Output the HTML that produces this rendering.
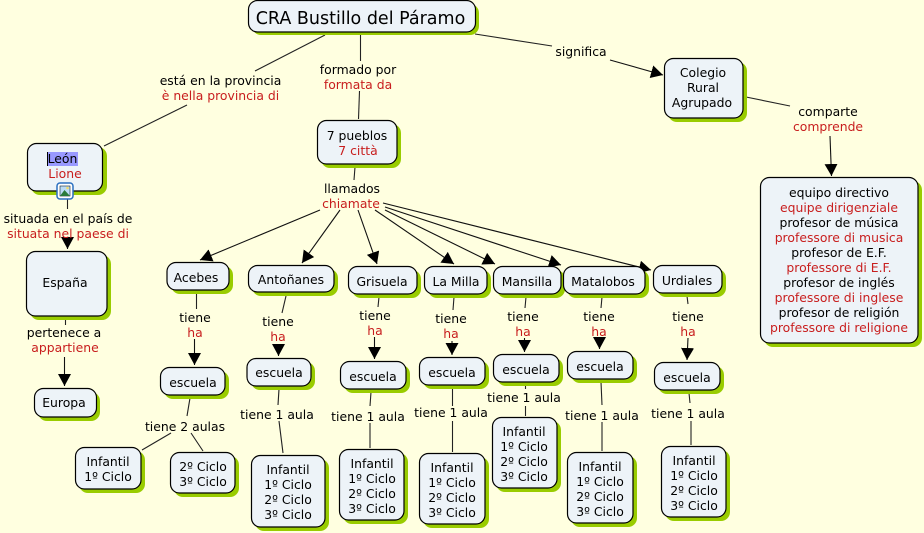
<!DOCTYPE html>
<html><head><meta charset="utf-8"><style>
html,body{margin:0;padding:0;background:#ffffe0;overflow:hidden}
svg{display:block}
text{font-family:"DejaVu Sans",sans-serif;font-size:12.4px;text-anchor:middle;fill:#000}
text.r{fill:#c81e1e}
.l line{stroke:#222;stroke-width:1.1}
.a line{stroke:#111;stroke-width:1.1;marker-end:url(#m)}
.s rect{fill:#99cc00}
.n rect{fill:#edf3f8;stroke:#000;stroke-width:1.2}
</style></head><body>
<svg width="924" height="533" viewBox="0 0 924 533" xmlns="http://www.w3.org/2000/svg">
<defs><marker id="m" markerUnits="userSpaceOnUse" markerWidth="14" markerHeight="14" refX="12" refY="6.5" orient="auto"><path d="M0 0L12 6.5L0 13Z" fill="#000"/></marker></defs>
<rect width="924" height="533" fill="#ffffe0"/>
<g class="l">
<line x1="325" y1="35" x2="255" y2="71"/><line x1="187" y1="105" x2="104" y2="146"/>
<line x1="360.500" y1="35" x2="360.500" y2="61"/><line x1="359.500" y1="91" x2="358.500" y2="119"/>
<line x1="355" y1="167" x2="354" y2="180"/>
<line x1="475" y1="34" x2="552" y2="46"/><line x1="746" y1="97" x2="790" y2="106"/>
<line x1="67.500" y1="198" x2="67.500" y2="209"/><line x1="65.500" y1="319" x2="65.500" y2="325"/>
<line x1="196.500" y1="294" x2="196.500" y2="309"/><line x1="286" y1="296" x2="282" y2="313"/>
<line x1="190" y1="398" x2="187" y2="416"/><line x1="171" y1="433" x2="142" y2="450"/><line x1="191" y1="433" x2="203" y2="451"/>
<line x1="279" y1="389" x2="278" y2="405"/><line x1="279" y1="421" x2="283" y2="453"/>
<line x1="379" y1="297" x2="378" y2="307"/><line x1="371" y1="392" x2="370" y2="406"/><line x1="370" y1="423" x2="370" y2="448"/>
<line x1="454" y1="297" x2="453" y2="310"/><line x1="452.500" y1="388" x2="452.500" y2="406"/><line x1="452.500" y1="421" x2="452.500" y2="452"/>
<line x1="526" y1="297" x2="525" y2="308"/><line x1="525.500" y1="385" x2="525.500" y2="389"/><line x1="525.500" y1="406" x2="525.500" y2="416"/>
<line x1="602" y1="297" x2="601" y2="308"/><line x1="601" y1="382" x2="602" y2="405"/><line x1="602" y1="422" x2="602" y2="451"/>
<line x1="687" y1="296" x2="688" y2="304"/><line x1="689" y1="393" x2="690" y2="403"/><line x1="691" y1="421" x2="691" y2="445"/>
</g>
<g class="a">
<line x1="610" y1="60" x2="663" y2="75"/><line x1="830" y1="136" x2="831.500" y2="176"/>
<line x1="67.500" y1="240" x2="67.500" y2="249"/><line x1="64.500" y1="357" x2="64.500" y2="386"/>
<line x1="320" y1="210" x2="200" y2="260"/><line x1="340" y1="210" x2="302" y2="263"/>
<line x1="358" y1="210" x2="377" y2="264"/><line x1="375" y1="210" x2="454" y2="264"/>
<line x1="385" y1="210" x2="495" y2="264"/><line x1="385" y1="207" x2="561" y2="265"/><line x1="383" y1="203" x2="651" y2="270"/>
<line x1="194.500" y1="339" x2="194.500" y2="365"/><line x1="278.500" y1="344" x2="278.500" y2="356"/>
<line x1="374.500" y1="337" x2="374.500" y2="359"/><line x1="452" y1="341" x2="452" y2="355"/>
<line x1="524.500" y1="338" x2="524.500" y2="352"/><line x1="599.500" y1="338" x2="599.500" y2="349"/><line x1="688" y1="338" x2="687" y2="360"/>
</g>
<g class="s">
<rect x="252" y="4" width="227" height="31" rx="9"/><rect x="31" y="147" width="76" height="48" rx="9"/>
<rect x="321" y="124" width="80" height="44" rx="9"/><rect x="668" y="62" width="79" height="60" rx="9"/>
<rect x="764" y="181" width="158" height="166" rx="9"/><rect x="30" y="255" width="81" height="65" rx="9"/>
<rect x="38" y="392" width="62" height="29" rx="9"/><rect x="171" y="266" width="62" height="28" rx="9"/>
<rect x="252" y="269" width="86" height="27" rx="9"/><rect x="164" y="371" width="65" height="28" rx="9"/>
<rect x="251" y="362" width="64" height="28" rx="9"/><rect x="79" y="451" width="66" height="42" rx="9"/>
<rect x="174" y="456" width="65" height="41" rx="9"/><rect x="255" y="459" width="74" height="72" rx="9"/>
<rect x="352" y="270" width="69" height="28" rx="9"/><rect x="428" y="270" width="63" height="28" rx="9"/>
<rect x="497" y="270" width="68" height="28" rx="9"/><rect x="567" y="270" width="82" height="28" rx="9"/>
<rect x="657" y="269" width="69" height="28" rx="9"/><rect x="344" y="365" width="66" height="28" rx="9"/>
<rect x="423" y="361" width="66" height="28" rx="9"/><rect x="497" y="358" width="66" height="28" rx="9"/>
<rect x="571" y="355" width="66" height="28" rx="9"/><rect x="658" y="366" width="66" height="28" rx="9"/>
<rect x="343" y="453" width="65" height="71" rx="9"/><rect x="423" y="457" width="66" height="71" rx="9"/>
<rect x="496" y="421" width="65" height="71" rx="9"/><rect x="571" y="456" width="66" height="71" rx="9"/>
<rect x="665" y="450" width="65" height="71" rx="9"/>
</g>
<g class="n">
<rect x="248.500" y="0.500" width="227" height="31.500" rx="9"/><rect x="27.500" y="143.500" width="75" height="47.500" rx="9"/>
<rect x="317.500" y="120.500" width="79.500" height="43.500" rx="9"/><rect x="664.500" y="58.500" width="78.500" height="59.500" rx="9"/>
<rect x="760.500" y="177.500" width="157.500" height="165.500" rx="9"/><rect x="26.500" y="251.500" width="80.500" height="64.500" rx="9"/>
<rect x="34.500" y="388.500" width="62" height="28.500" rx="9"/><rect x="167" y="262.500" width="62" height="27.500" rx="9"/>
<rect x="248.500" y="265.500" width="85.500" height="26.500" rx="9"/><rect x="160.500" y="367.500" width="64.500" height="27.500" rx="9"/>
<rect x="247" y="358.500" width="64" height="27.500" rx="9"/><rect x="75.500" y="447.500" width="65.500" height="41.500" rx="9"/>
<rect x="170.500" y="452.500" width="64.500" height="40.500" rx="9"/><rect x="251.500" y="455.500" width="73.500" height="71.500" rx="9"/>
<rect x="348.500" y="266.500" width="68.500" height="27.500" rx="9"/><rect x="424.500" y="266.500" width="62.500" height="27.500" rx="9"/>
<rect x="493.500" y="266.500" width="67.500" height="27.500" rx="9"/><rect x="563.500" y="266.500" width="81.500" height="27.500" rx="9"/>
<rect x="653.500" y="265.500" width="68.500" height="27.500" rx="9"/><rect x="340.500" y="361.500" width="65.500" height="27.500" rx="9"/>
<rect x="419.500" y="357.500" width="65.500" height="27.500" rx="9"/><rect x="493.500" y="354.500" width="65.500" height="27.500" rx="9"/>
<rect x="567.500" y="351.500" width="65.500" height="27.500" rx="9"/><rect x="654.500" y="362.500" width="65.500" height="27.500" rx="9"/>
<rect x="339.500" y="449.500" width="64.500" height="70.500" rx="9"/><rect x="419.500" y="453.500" width="65.500" height="70.500" rx="9"/>
<rect x="492.500" y="417.500" width="64.500" height="70.500" rx="9"/><rect x="567.500" y="452.500" width="65.500" height="70.500" rx="9"/>
<rect x="661.500" y="446.500" width="64.500" height="70.500" rx="9"/>
</g>
<rect x="47" y="152" width="31" height="14" fill="#9999ff"/><rect x="47" y="152" width="1" height="14" fill="#000"/>
<rect x="57" y="183" width="16" height="16" rx="3" fill="#fff" stroke="#2a6fc0" stroke-width="1.500"/>
<rect x="60" y="186" width="10" height="10" fill="#bcdcf5" stroke="#123" stroke-width=".6"/>
<path d="M60 196L64.500 190L70 196Z" fill="#2a7a3a"/><circle cx="67.500" cy="188" r="1.300" fill="#f3dc6a"/>
<text x="360.500" y="24" style="font-size:17.500px">CRA Bustillo del Páramo</text>
<text x="62.500" y="163">León</text><text class="r" x="65" y="178">Lione</text>
<text x="220.500" y="85">está en la provincia</text><text class="r" x="220.500" y="100">è nella provincia di</text>
<text x="358" y="74">formado por</text><text class="r" x="358" y="89">formata da</text>
<text x="357" y="140">7 pueblos</text><text class="r" x="358" y="155">7 città</text>
<text x="352" y="193">llamados</text><text class="r" x="351" y="208">chiamate</text>
<text x="581" y="56">significa</text>
<text x="703" y="77">Colegio</text><text x="703" y="92">Rural</text><text x="702" y="107">Agrupado</text>
<text x="828" y="116">comparte</text><text class="r" x="828" y="131">comprende</text>
<text x="839" y="197">equipo directivo</text><text class="r" x="839" y="212">equipe dirigenziale</text>
<text x="839" y="227">profesor de música</text><text class="r" x="839" y="242">professore di musica</text>
<text x="839" y="257">profesor de E.F.</text><text class="r" x="839" y="272">professore di E.F.</text>
<text x="839" y="287">profesor de inglés</text><text class="r" x="839" y="302">professore di inglese</text>
<text x="839" y="317">profesor de religión</text><text class="r" x="839" y="332">professore di religione</text>
<text x="68" y="223">situada en el país de</text><text class="r" x="68" y="238">situata nel paese di</text>
<text x="65" y="287">España</text>
<text x="64" y="337">pertenece a</text><text class="r" x="65" y="352">appartiene</text>
<text x="64" y="407">Europa</text>
<text x="196" y="282">Acebes</text><text x="195" y="322">tiene</text><text class="r" x="195" y="337">ha</text><text x="193" y="387">escuela</text>
<text x="185" y="431">tiene 2 aulas</text>
<text x="108" y="466">Infantil</text><text x="108" y="481">1º Ciclo</text>
<text x="203" y="471">2º Ciclo</text><text x="203" y="486">3º Ciclo</text>
<text x="291" y="284">Antoñanes</text><text x="278" y="326">tiene</text><text class="r" x="278" y="341">ha</text><text x="279" y="377">escuela</text>
<text x="277" y="419">tiene 1 aula</text>
<text x="288" y="474">Infantil</text><text x="288" y="489">1º Ciclo</text><text x="288" y="504">2º Ciclo</text><text x="288" y="519">3º Ciclo</text>
<text x="382" y="286">Grisuela</text><text x="375" y="320">tiene</text><text class="r" x="375" y="335">ha</text><text x="373" y="381">escuela</text>
<text x="368" y="421">tiene 1 aula</text>
<text x="372" y="468">Infantil</text><text x="372" y="483">1º Ciclo</text><text x="372" y="498">2º Ciclo</text><text x="372" y="513">3º Ciclo</text>
<text x="456" y="286">La Milla</text><text x="451" y="323">tiene</text><text class="r" x="451" y="338">ha</text><text x="452" y="377">escuela</text>
<text x="451" y="417">tiene 1 aula</text>
<text x="452" y="472">Infantil</text><text x="452" y="487">1º Ciclo</text><text x="452" y="502">2º Ciclo</text><text x="452" y="517">3º Ciclo</text>
<text x="527" y="286">Mansilla</text><text x="523" y="321">tiene</text><text class="r" x="523" y="336">ha</text><text x="526" y="374">escuela</text>
<text x="524" y="402">tiene 1 aula</text>
<text x="524" y="436">Infantil</text><text x="524" y="451">1º Ciclo</text><text x="524" y="466">2º Ciclo</text><text x="524" y="481">3º Ciclo</text>
<text x="603" y="286">Matalobos</text><text x="599" y="321">tiene</text><text class="r" x="599" y="336">ha</text><text x="600" y="371">escuela</text>
<text x="602" y="420">tiene 1 aula</text>
<text x="600" y="471">Infantil</text><text x="600" y="486">1º Ciclo</text><text x="600" y="501">2º Ciclo</text><text x="600" y="516">3º Ciclo</text>
<text x="687" y="285">Urdiales</text><text x="688" y="321">tiene</text><text class="r" x="688" y="336">ha</text><text x="687" y="382">escuela</text>
<text x="688" y="418">tiene 1 aula</text>
<text x="694" y="465">Infantil</text><text x="694" y="480">1º Ciclo</text><text x="694" y="495">2º Ciclo</text><text x="694" y="510">3º Ciclo</text>
</svg>
</body></html>
